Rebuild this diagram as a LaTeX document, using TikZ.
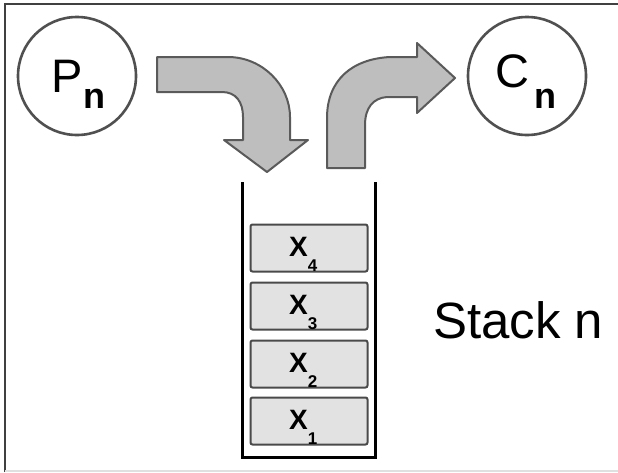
\documentclass[tikz,border=0pt]{standalone}
\usepackage{fontspec}
\setmainfont{Liberation Sans}
\definecolor{arrowfill}{HTML}{BEBEBE}
\definecolor{arrowline}{HTML}{5A5A5A}
\definecolor{boxfill}{HTML}{E2E2E2}
\definecolor{boxline}{HTML}{4A4A4A}
\definecolor{ringline}{HTML}{505050}
\tikzset{
  ring/.style={circle, draw=ringline, line width=2.6pt, minimum size=118pt, inner sep=0pt},
  bigarrow/.style={fill=arrowfill, draw=arrowline, line width=2pt, line join=round},
  wall/.style={draw=black, line width=3pt},
  item/.style={rectangle, rounded corners=2pt, draw=boxline, fill=boxfill, line width=2pt, minimum width=117pt, minimum height=47pt, inner sep=0pt},
  circtext/.style={font=\fontsize{47}{47}\selectfont, anchor=base west, inner sep=0pt},
  itemtext/.style={font=\bfseries\fontsize{28}{28}\selectfont, anchor=base west, inner sep=0pt}
}
\newcommand{\subn}[1]{\raisebox{-#1}{\bfseries\fontsize{36}{36}\selectfont n}}
\newcommand{\subd}[1]{\raisebox{-15pt}{\bfseries\fontsize{17}{17}\selectfont #1}}
\begin{document}
\begin{tikzpicture}[x=1pt,y=-1pt]
\useasboundingbox (0,0) rectangle (618,472);
% frame
\draw[line width=1.5pt, draw=black!75] (5,472) -- (5,4) -- (618,4);
\draw[line width=1.5pt, draw=black!12] (5,471) -- (618,471);
% circles
\node[ring] (P) at (77,76) {};
\node[ring] (C) at (527,76) {};
\node[circtext] (Pt) at (51,92) {P\kern1pt\subn{16pt}};
\node[circtext] (Ct) at (495,87) {C\kern5pt\subn{21pt}};
% arrow into stack
\path[bigarrow] (157,57) -- (228,57)
  .. controls (262,57) and (290,85) .. (290,117)
  -- (290,140) -- (308,140) -- (267,172) -- (224,140) -- (243,140)
  -- (243,117) .. controls (243,102) and (236,92) .. (222,92)
  -- (157,92) -- cycle;
% arrow out of stack
\path[bigarrow] (327,168) -- (327,118)
  .. controls (327,80) and (352,59) .. (390,57)
  -- (417,57) -- (417,43) -- (455,78) -- (417,113) -- (417,97)
  -- (387,97) .. controls (373,98) and (365,108) .. (365,125)
  -- (365,168) -- cycle;
% stack
\draw[wall] (242,182) -- (242,457) -- (375,457) -- (375,182);
\node[item] (x4) at (309,248) {};
\node[item] (x3) at (309,306) {};
\node[item] (x2) at (309,364) {};
\node[item] (x1) at (309,421) {};
\node[itemtext] (t4) at (289,256) {X\subd{4}};
\node[itemtext] (t3) at (289,314) {X\subd{3}};
\node[itemtext] (t2) at (289,372) {X\subd{2}};
\node[itemtext] (t1) at (289,429) {X\subd{1}};
% label
\node[font=\fontsize{51}{51}\selectfont, anchor=base west, inner sep=0pt] (lbl) at (433,338) {Stack n};
\end{tikzpicture}
\end{document}
